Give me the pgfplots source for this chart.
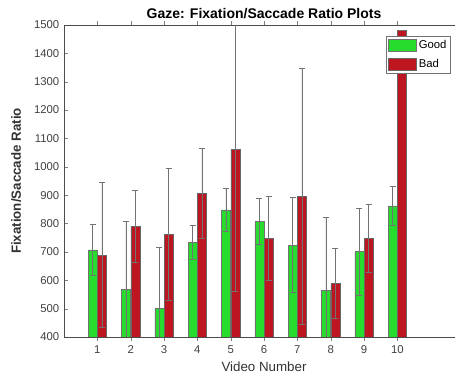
\documentclass[border=0pt]{standalone}
\usepackage{pgfplots}
\pgfplotsset{compat=1.18}
\usepackage{pgfplotstable}
\usepackage{fontspec}
\setmainfont{Liberation Sans}
\definecolor{goodc}{RGB}{40,220,45}
\definecolor{badc}{RGB}{190,22,32}
\definecolor{errc}{RGB}{115,115,115}
\pgfplotstableread{
x good gerr bad berr
1 707 90 689 256
2 568 239 791 127
3 501 214 762 233
4 734 61 907 158
5 848 76 1062 500
6 807 82 748 149
7 724 167 895 452
8 563 258 589 124
9 701 153 748 121
10 862 70 1482 0
}\datatable
\begin{document}
\begin{tikzpicture}
\path[use as bounding box] (-48pt,-31.5pt) rectangle (293.25pt,252.75pt);
\begin{axis}[
  at={(0,0)}, anchor=south west,
  scale only axis,
  width=300pt, height=234pt,
  xmin=0, xmax=12, ymin=400, ymax=1500,
  xtick={1,...,10},
  ytick={400,500,...,1500},
  tick align=inside,
  major tick length=3pt,
  ybar,
  bar width=0.27,
  /pgf/number format/assume math mode=true,
  /pgf/number format/1000 sep={},
  tick label style={font=\fontsize{8.5}{9}\selectfont, color=black!75},
  title={\bfseries Gaze: Fixation/Saccade Ratio Plots},
  title style={font=\fontsize{10.5}{12}\selectfont, yshift=-5pt},
  xlabel={Video Number},
  ylabel={\bfseries Fixation/Saccade Ratio},
  label style={font=\fontsize{10}{12}\selectfont, color=black!80},
  xlabel style={yshift=1pt},
  ylabel style={yshift=2.75pt},
  axis line style={black!70},
  legend style={at={(0.967,0.965)}, anchor=north east, draw=black!55,
    font=\fontsize{8.5}{9}\selectfont, inner sep=1pt, row sep=2.5pt,
    cells={anchor=west}},
  legend image code/.code={\draw[#1,/tikz/.cd] (0pt,-4.5pt) rectangle (21pt,4.5pt);},
  error bars/error bar style={errc, line width=0.6pt},
  error bars/error mark options={errc, rotate=90, mark size=2.2pt, line width=0.6pt},
]
\addplot[fill=goodc, draw=black!55, line width=0.4pt, bar shift=-0.14,
  error bars/.cd, y dir=both, y explicit]
  table[x=x, y=good, y error=gerr] {\datatable};
\addplot[fill=badc, draw=black!60, line width=0.4pt, bar shift=0.14,
  error bars/.cd, y dir=both, y explicit]
  table[x=x, y=bad, y error=berr] {\datatable};
\legend{Good, Bad}
\end{axis}
\end{tikzpicture}
\end{document}
